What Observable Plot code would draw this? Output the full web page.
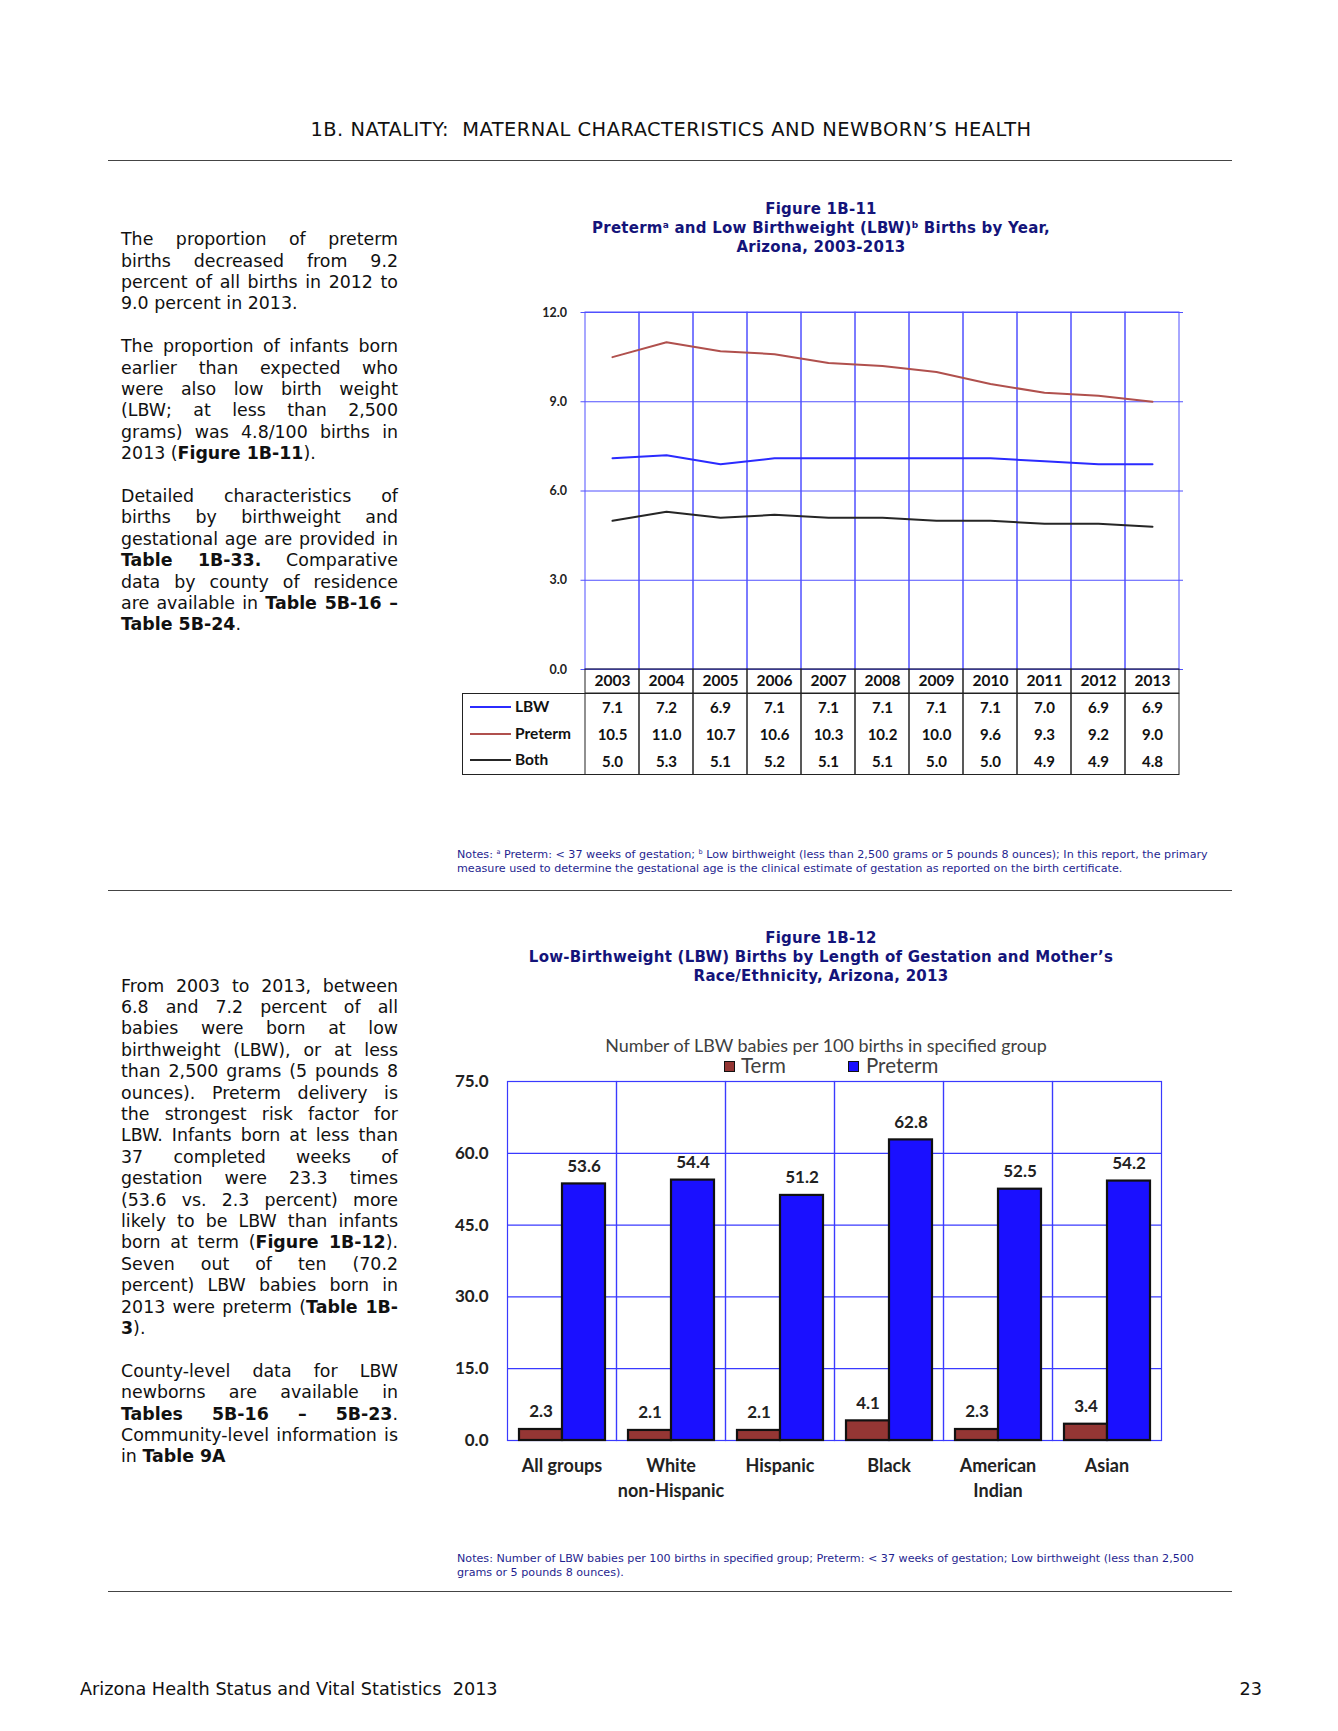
<!DOCTYPE html>
<html>
<head>
<meta charset="utf-8">
<script src="https://cdn.jsdelivr.net/npm/d3@7"></script>
<script src="https://cdn.jsdelivr.net/npm/@observablehq/plot@0.6"></script>
<style>
  html, body { margin: 0; padding: 0; background: #fff; }
  #page { position: relative; width: 1338px; height: 1731px; background: #fff; overflow: hidden; font-family: "DejaVu Sans", Verdana, sans-serif; color: #111; }
  .abs { position: absolute; }
  .hr { position: absolute; left: 108px; width: 1124px; height: 0; border-top: 1.5px solid #444; }
  .title { position: absolute; left: 440px; width: 762px; text-align: center; color: #14147a; font-weight: bold; font-size: 15px; letter-spacing: 0.25px; line-height: 19px; white-space: nowrap; }
  .title sup { font-size: 9px; line-height: 0; vertical-align: 5px; }
  .notes { position: absolute; left: 457px; color: #1f1f90; font-size: 11.15px; line-height: 14.4px; white-space: nowrap; }
  .notes sup { font-size: 6.5px; line-height: 0; vertical-align: 4px; }
  .para { position: absolute; left: 121px; width: 277px; font-size: 17.4px; line-height: 21.4px; }
  .ln { white-space: nowrap; text-align: justify; text-align-last: justify; height: 21.4px; }
  .ln.last { text-align: left; text-align-last: left; }
  .gap { height: 21.4px; }
  .lg { position: absolute; font-family: Lato, sans-serif; font-weight: bold; font-size: 15.5px; color: #111; }
  .sw { position: absolute; height: 0; border-top: 2px solid; }
  .plotbox { position: absolute; }
</style>
</head>
<body>
<div id="page">
  <div class="abs" style="left:0; width:1342px; top:118px; text-align:center; font-size:19.4px; letter-spacing:0.5px; line-height:24px; white-space:pre;">1B. NATALITY:  MATERNAL CHARACTERISTICS AND NEWBORN’S HEALTH</div>
  <div class="hr" style="top:160px;"></div>

  <div class="title" style="top:199.5px;">Figure 1B-11<br>Preterm<sup>a</sup> and Low Birthweight (LBW)<sup>b</sup> Births by Year,<br>Arizona, 2003-2013</div>

  <div id="text1" class="para" style="top:229.3px;"></div>
  <div id="chart1" class="plotbox" style="left:462px; top:300px;"></div>
  <div id="thead" class="plotbox" style="left:462px; top:668px;"></div>
  <div class="abs" style="left:462px; top:693px; width:130px; height:82px; border:1px solid #222; border-right:none; box-sizing:border-box;"></div>
  <div id="tbody" class="plotbox" style="left:462px; top:693px;"></div>
  <div id="legend1"></div>

  <div class="notes" style="top:847.6px;">Notes: <sup>a</sup> Preterm: &lt; 37 weeks of gestation; <sup>b</sup> Low birthweight (less than 2,500 grams or 5 pounds 8 ounces); In this report, the primary<br>measure used to determine the gestational age is the clinical estimate of gestation as reported on the birth certificate.</div>
  <div class="hr" style="top:890px;"></div>

  <div class="title" style="top:929.3px;">Figure 1B-12<br>Low-Birthweight (LBW) Births by Length of Gestation and Mother’s<br>Race/Ethnicity, Arizona, 2013</div>

  <div id="text2" class="para" style="top:975.7px;"></div>

  <div class="abs" style="left:480px; width:692px; top:1034px; text-align:center; font-family:Lato, sans-serif; font-size:17.9px; line-height:22px; color:#404040;">Number of LBW babies per 100 births in specified group</div>
  <div id="legend2"></div>
  <div id="chart2" class="plotbox" style="left:420px; top:1060px;"></div>

  <div class="notes" style="top:1551.8px;">Notes: Number of LBW babies per 100 births in specified group; Preterm: &lt; 37 weeks of gestation; Low birthweight (less than 2,500<br>grams or 5 pounds 8 ounces).</div>
  <div class="hr" style="top:1591px;"></div>

  <div class="abs" style="left:80px; top:1678px; font-size:17.65px; line-height:22px; white-space:pre;">Arizona Health Status and Vital Statistics  2013</div>
  <div class="abs" style="left:1162px; width:100px; top:1678px; text-align:right; font-size:17.65px; line-height:22px;">23</div>
</div>
<script>
// ---------- Data: Figure 1B-11 ----------
const years = ["2003","2004","2005","2006","2007","2008","2009","2010","2011","2012","2013"];
const lbwValues = [7.1, 7.2, 6.9, 7.1, 7.1, 7.1, 7.1, 7.1, 7.0, 6.9, 6.9];
const pretermValues1 = [10.5, 11.0, 10.7, 10.6, 10.3, 10.2, 10.0, 9.6, 9.3, 9.2, 9.0];
const bothValues = [5.0, 5.3, 5.1, 5.2, 5.1, 5.1, 5.0, 5.0, 4.9, 4.9, 4.8];
const seriesNames1 = ["LBW", "Preterm", "Both"];
const seriesColors1 = ["#2b2bff", "#b0504d", "#262626"];
const yTicks1 = [0, 3, 6, 9, 12];

// ---------- Data: Figure 1B-12 ----------
const groups = ["All groups", "White non-Hispanic", "Hispanic", "Black", "American Indian", "Asian"];
const groupLabels = ["All groups", "White\nnon-Hispanic", "Hispanic", "Black", "American\nIndian", "Asian"];
const termValues = [2.3, 2.1, 2.1, 4.1, 2.3, 3.4];
const pretermValues2 = [53.6, 54.4, 51.2, 62.8, 52.5, 54.2];
const seriesNames2 = ["Term", "Preterm"];
const seriesColors2 = ["#943634", "#1a10ff"];
const yTicks2 = [0, 15, 30, 45, 60, 75];

// ---------- Text ----------
const text1 = [
  ["The proportion of preterm", "births decreased from 9.2", "percent of all births in 2012 to", "9.0 percent in 2013."],
  ["The proportion of infants born", "earlier than expected who", "were also low birth weight", "(LBW; at less than 2,500", "grams) was 4.8/100 births in", "2013 (<b>Figure 1B-11</b>)."],
  ["Detailed characteristics of", "births by birthweight and", "gestational age are provided in", "<b>Table 1B-33.</b> Comparative", "data by county of residence", "are available in <b>Table 5B-16 –</b>", "<b>Table 5B-24</b>."]
];
const text2 = [
  ["From 2003 to 2013, between", "6.8 and 7.2 percent of all", "babies were born at low", "birthweight (LBW), or at less", "than 2,500 grams (5 pounds 8", "ounces). Preterm delivery is", "the strongest risk factor for", "LBW. Infants born at less than", "37 completed weeks of", "gestation were 23.3 times", "(53.6 vs. 2.3 percent) more", "likely to be LBW than infants", "born at term (<b>Figure 1B-12</b>).", "Seven out of ten (70.2", "percent) LBW babies born in", "2013 were preterm (<b>Table 1B-</b>", "<b>3</b>)."],
  ["County-level data for LBW", "newborns are available in", "<b>Tables 5B-16 – 5B-23</b>.", "Community-level information is", "in <b>Table 9A</b>"]
];
function fillText(id, paras) {
  const el = document.getElementById(id);
  let html = "";
  paras.forEach((p, pi) => {
    if (pi > 0) html += '<div class="gap"></div>';
    p.forEach((l, li) => {
      html += `<div class="ln${li === p.length - 1 ? " last" : ""}">${l}</div>`;
    });
  });
  el.innerHTML = html;
}
fillText("text1", text1);
fillText("text2", text2);

// ---------- Chart 1 ----------
const grid1 = "#5050ff";
const lineData = [];
[lbwValues, pretermValues1, bothValues].forEach((vals, si) => {
  vals.forEach((v, i) => lineData.push({year: years[i], series: seriesNames1[si], value: v}));
});
const mLeft1 = 118.5;
const chart1 = Plot.plot({
  width: 722, height: 379,
  marginLeft: mLeft1, marginRight: 1, marginTop: 12, marginBottom: 10,
  style: {background: "transparent", fontFamily: "Lato, sans-serif", fontSize: "12.5px", fontWeight: "bold", color: "#222"},
  x: {type: "band", domain: years, padding: 0, axis: null},
  y: {domain: [0, 12], ticks: yTicks1, tickFormat: d => d.toFixed(1), tickSize: 0, tickPadding: 14, label: null},
  color: {domain: seriesNames1, range: seriesColors1},
  marks: [
    Plot.ruleY(yTicks1, {stroke: grid1, strokeWidth: 1}),
    Plot.cell(years, {x: d => d, stroke: grid1, fill: "none", strokeWidth: 1}),
    Plot.lineY(lineData, {x: "year", y: "value", stroke: "series", strokeWidth: 2})
  ]
});
document.getElementById("chart1").appendChild(chart1);

const thead = Plot.plot({
  width: 722, height: 26,
  marginLeft: mLeft1, marginRight: 1, marginTop: 1, marginBottom: 1,
  style: {background: "transparent", fontFamily: "Lato, sans-serif", fontSize: "15.5px", fontWeight: "bold", color: "#111"},
  x: {type: "band", domain: years, padding: 0, axis: null},
  marks: [
    Plot.cell(years, {x: d => d, stroke: "#222", fill: "none"}),
    Plot.text(years, {x: d => d, text: d => d, fill: "#111"})
  ]
});
document.getElementById("thead").appendChild(thead);

const tableData = [];
[lbwValues, pretermValues1, bothValues].forEach((vals, si) => {
  vals.forEach((v, i) => tableData.push({year: years[i], series: seriesNames1[si], value: v}));
});
const tbody = Plot.plot({
  width: 722, height: 82,
  marginLeft: mLeft1, marginRight: 1, marginTop: 0.5, marginBottom: 0.5,
  style: {background: "transparent", fontFamily: "Lato, sans-serif", fontSize: "15px", fontWeight: "bold", color: "#111"},
  x: {type: "band", domain: years, padding: 0, axis: null},
  y: {type: "band", domain: seriesNames1, padding: 0, axis: null},
  marks: [
    Plot.cell(years, {x: d => d, stroke: "#222", fill: "none"}),
    Plot.text(tableData, {x: "year", y: "series", text: d => d.value.toFixed(1), fill: "#111"})
  ]
});
document.getElementById("tbody").appendChild(tbody);

// legend column of the table
const lg1 = document.getElementById("legend1");
const rowCenters = [707, 733.5, 760];
seriesNames1.forEach((s, i) => {
  const sw = document.createElement("div");
  sw.className = "sw";
  sw.style.left = "470px"; sw.style.width = "41px"; sw.style.top = (rowCenters[i] - 1) + "px";
  sw.style.borderColor = seriesColors1[i];
  lg1.appendChild(sw);
  const t = document.createElement("div");
  t.className = "lg";
  t.style.left = "515px"; t.style.top = (rowCenters[i] - 10) + "px"; t.style.lineHeight = "18px";
  t.textContent = s;
  lg1.appendChild(t);
});

// ---------- Chart 2 ----------
const grid2 = "#3a3aff";
const barData = [];
groups.forEach((g, i) => {
  barData.push({group: g, series: "Term", value: termValues[i]});
  barData.push({group: g, series: "Preterm", value: pretermValues2[i]});
});
const chart2 = Plot.plot({
  width: 748, height: 450,
  marginLeft: 85, marginRight: 5, marginTop: 21, marginBottom: 70,
  style: {background: "transparent", fontFamily: "Lato, sans-serif", fontSize: "17px", fontWeight: "bold", color: "#222"},
  fx: {domain: groups, padding: 0, axis: null, label: null},
  x: {domain: seriesNames2, paddingInner: 0, paddingOuter: 0.24, align: 0.5, axis: null},
  y: {domain: [0, 75], ticks: yTicks2, tickFormat: d => d.toFixed(1), tickSize: 0, tickPadding: 19, label: null},
  color: {domain: seriesNames2, range: seriesColors2},
  marks: [
    Plot.ruleY(yTicks2, {stroke: grid2, strokeWidth: 1.2}),
    Plot.frame({stroke: grid2, strokeWidth: 1.2}),
    Plot.barY(barData, {fx: "group", x: "series", y: "value", fill: "series", stroke: "#111", strokeWidth: 2.2}),
    Plot.text(barData, {fx: "group", x: "series", y: "value", text: d => d.value.toFixed(1), dy: -12, lineAnchor: "bottom", fill: "#222", fontSize: 17, fontWeight: "bold"}),
    Plot.text(groups, {fx: d => d, text: (d, i) => groupLabels[i], frameAnchor: "bottom", lineAnchor: "top", dy: 13, lineHeight: 1.42, fill: "#222", fontSize: 18, fontWeight: "bold"})
  ]
});
document.getElementById("chart2").appendChild(chart2);

// legend for chart 2
const lg2 = document.getElementById("legend2");
[[724, 741], [848, 866]].forEach(([sx, tx], i) => {
  const sw = document.createElement("div");
  sw.style.cssText = `position:absolute; left:${sx}px; top:1061px; width:11px; height:11px; background:${seriesColors2[i]}; border:1.5px solid #111; box-sizing:border-box;`;
  lg2.appendChild(sw);
  const t = document.createElement("div");
  t.style.cssText = `position:absolute; left:${tx}px; top:1054px; font-family:Lato, sans-serif; font-size:20.5px; line-height:22px; color:#404040;`;
  t.textContent = seriesNames2[i];
  lg2.appendChild(t);
});
</script>
</body>
</html>
